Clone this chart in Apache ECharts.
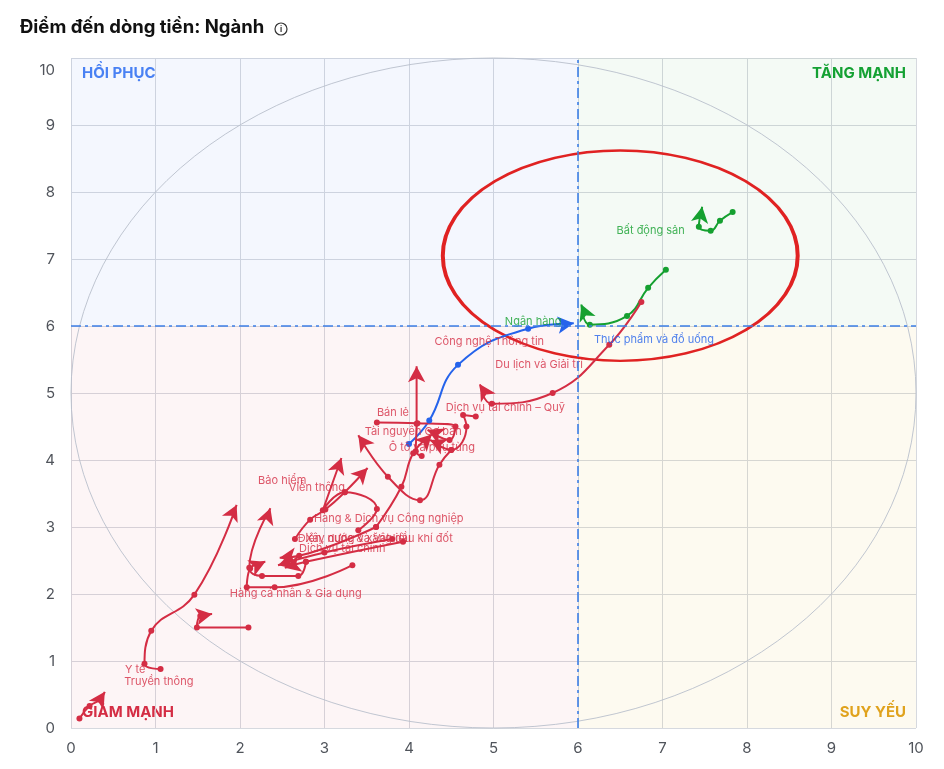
<!DOCTYPE html>
<html>
<head>
<meta charset="utf-8">
<script src="https://cdn.jsdelivr.net/npm/echarts@6/dist/echarts.min.js"></script>
<style>
html, body { margin: 0; padding: 0; background: #fff; }
#chart { width: 944px; height: 769px; }
</style>
</head>
<body>
<div id="chart"></div>
<script>
// trails of each sector: [x, y] points, oldest first, last point is the arrow head
var batDongSan = [[7.83, 7.70], [7.68, 7.57], [7.57, 7.42], [7.43, 7.48], [7.47, 7.78]];
var thucPham = [[7.04, 6.84], [6.83, 6.57], [6.58, 6.15], [6.14, 6.02], [6.04, 6.32]];
var nganHang = [[4.00, 4.24], [4.24, 4.59], [4.58, 5.42], [5.41, 5.96], [5.95, 6.04]];
var duLich = [[6.75, 6.36], [6.37, 5.72], [5.70, 5.00], [4.98, 4.84], [4.84, 5.13]];
var congNghe = [[4.15, 4.06], [4.08, 4.13], [4.09, 4.54], [4.09, 5.40]];
var banLe = [[3.62, 4.56], [4.10, 4.55], [4.55, 4.50], [4.48, 4.30], [4.22, 4.45]];
var dvtcQuy = [[4.79, 4.65], [4.64, 4.67], [4.68, 4.50], [4.50, 4.15], [4.25, 4.30]];
var taiNguyen = [[3.61, 3.00], [3.91, 3.60], [4.05, 4.10], [4.27, 4.38]];
var otoPhuTung = [[4.50, 4.15], [4.36, 3.93], [4.13, 3.40], [3.75, 3.75], [3.40, 4.37]];
var baoHiem = [[2.78, 2.48], [2.69, 2.27], [2.26, 2.27], [2.11, 2.39], [2.36, 3.28]];
var vienThong = [[3.40, 2.95], [3.62, 3.27], [3.24, 3.52], [2.98, 3.25], [3.20, 4.03]];
var hangDvcn = [[2.65, 2.82], [2.83, 3.11], [3.01, 3.26], [3.24, 3.52], [3.51, 3.88]];
var xayDung = [[3.80, 2.82], [3.00, 2.62], [2.45, 2.43]];
var dienNuoc = [[3.61, 3.00], [2.70, 2.57], [2.47, 2.54]];
var dvTaiChinh = [[3.93, 2.78], [2.78, 2.48], [2.53, 2.39]];
var hangCaNhan = [[3.33, 2.43], [2.41, 2.10], [2.08, 2.10], [2.12, 2.38], [2.30, 2.48]];
var yTe = [[1.06, 0.88], [0.87, 0.96], [0.95, 1.45], [1.46, 1.99], [1.96, 3.33]];
var truyenThong = [[0.10, 0.14], [0.22, 0.33], [0.34, 0.42], [0.40, 0.54]];
var hoaChat = [[2.10, 1.50], [1.49, 1.50], [1.53, 1.67], [1.67, 1.70]];

var sectorNames = ['Bất động sản', 'Thực phẩm và đồ uống', 'Ngân hàng', 'Du lịch và Giải trí',
  'Công nghệ Thông tin', 'Bán lẻ', 'Dịch vụ tài chính – Quỹ', 'Tài nguyên Cơ bản', 'Ô tô và phụ tùng',
  'Bảo hiểm', 'Viễn thông', 'Hàng & Dịch vụ Công nghiệp', 'Xây dựng và Vật liệu',
  'Điện, nước & xăng dầu khí đốt', 'Dịch vụ tài chính', 'Hàng cá nhân & Gia dụng', 'Y tế',
  'Truyền thông', 'Hóa chất'];
var sectorTrails = [batDongSan, thucPham, nganHang, duLich, congNghe, banLe, dvtcQuy, taiNguyen,
  otoPhuTung, baoHiem, vienThong, hangDvcn, xayDung, dienNuoc, dvTaiChinh, hangCaNhan, yTe,
  truyenThong, hoaChat];
var sectorGroups = ['up', 'up', 'rec', 'down', 'down', 'down', 'down', 'down', 'down', 'down', 'down',
  'down', 'down', 'down', 'down', 'down', 'down', 'down', 'down'];

// name labels as they sit on the chart
var labelNames = ['Bất động sản', 'Ngân hàng', 'Thực phẩm và đồ uống', 'Công nghệ Thông tin',
  'Du lịch và Giải trí', 'Dịch vụ tài chính – Quỹ', 'Bán lẻ', 'Tài nguyên Cơ bản', 'Ô tô và phụ tùng',
  'Bảo hiểm', 'Viễn thông', 'Hàng & Dịch vụ Công nghiệp', 'Xây dựng và Vật liệu',
  'Điện, nước & xăng dầu khí đốt', 'Dịch vụ tài chính', 'Hàng cá nhân & Gia dụng', 'Y tế', 'Truyền thông'];
var labelPoints = [[6.86, 7.43], [5.47, 6.07], [6.90, 5.79], [4.95, 5.76], [5.54, 5.42], [5.14, 4.78],
  [3.81, 4.70], [4.05, 4.42], [4.27, 4.19], [2.50, 3.69], [2.91, 3.58], [3.76, 3.12], [3.40, 2.82],
  [3.60, 2.82], [3.21, 2.67], [2.66, 2.00], [0.76, 0.87], [1.04, 0.69]];
var labelGroups = ['up', 'up', 'rec', 'down', 'down', 'down', 'down', 'down', 'down', 'down', 'down',
  'down', 'down', 'down', 'down', 'down', 'down', 'down'];

var axisTicks = [0, 1, 2, 3, 4, 5, 6, 7, 8, 9, 10];
var splitValue = 6;
var guideCircle = [5, 5, 5, 5];        // cx, cy, rx, ry
var highlightEllipse = [6.50, 7.05, 2.10, 1.57];

var groupColors = { up: '#15a030', rec: '#2563eb', down: '#d42d44' };

var chart = echarts.init(document.getElementById('chart'));

function ellipseSeries(values, color, width) {
  return {
    type: 'custom',
    silent: true,
    clip: false,
    encode: { x: 0, y: 1 },
    data: [values],
    z: 1,
    renderItem: function (params, api) {
      var c = api.coord([api.value(0), api.value(1)]);
      var e = api.coord([api.value(0) + api.value(2), api.value(1) + api.value(3)]);
      var rx = Math.abs(e[0] - c[0]);
      var ry = Math.abs(e[1] - c[1]);
      return {
        type: 'circle',
        x: c[0], y: c[1],
        scaleY: ry / rx,
        shape: { cx: 0, cy: 0, r: rx },
        style: { fill: 'none', stroke: color, lineWidth: width, strokeNoScale: true }
      };
    }
  };
}

function buildSeries(rotations) {
  var list = [];
  list.push({
    type: 'scatter',
    data: [],
    silent: true,
    markArea: {
      silent: true,
      data: [
        [{ coord: [0, splitValue], itemStyle: { color: 'rgba(70,120,240,0.06)' } }, { coord: [splitValue, 10] }],
        [{ coord: [splitValue, splitValue], itemStyle: { color: 'rgba(30,160,60,0.05)' } }, { coord: [10, 10] }],
        [{ coord: [0, 0], itemStyle: { color: 'rgba(220,50,80,0.05)' } }, { coord: [splitValue, splitValue] }],
        [{ coord: [splitValue, 0], itemStyle: { color: 'rgba(230,180,40,0.07)' } }, { coord: [10, splitValue] }]
      ]
    },
    markLine: {
      silent: true,
      symbol: 'none',
      label: { show: false },
      lineStyle: { color: '#3d7fe6', width: 1.6, type: [10, 4, 3, 4] },
      data: [{ xAxis: splitValue }, { yAxis: splitValue }]
    }
  });
  list.push(ellipseSeries(guideCircle, '#b9bfcc', 1));
  sectorTrails.forEach(function (trail, i) {
    var color = groupColors[sectorGroups[i]];
    var data = trail.map(function (p, k) {
      if (k === trail.length - 1) {
        return { value: p, symbol: 'arrow', symbolSize: [13, 16], symbolRotate: rotations ? rotations[i] : 0 };
      }
      return { value: p, symbol: 'circle', symbolSize: 6 };
    });
    list.push({
      name: sectorNames[i],
      type: 'line',
      smooth: 0.45,
      data: data,
      z: 3,
      lineStyle: { color: color, width: 2 },
      itemStyle: { color: color, opacity: 1 },
      emphasis: { disabled: true }
    });
  });
  list.push({
    type: 'scatter',
    silent: true,
    symbolSize: 0,
    z: 4,
    data: labelPoints.map(function (p, i) {
      return {
        value: p,
        name: labelNames[i],
        label: { color: groupColors[labelGroups[i]] }
      };
    }),
    label: {
      show: true,
      position: 'inside',
      formatter: '{b}',
      fontFamily: 'Inter',
      fontSize: 11
    }
  });
  list.push(ellipseSeries(highlightEllipse, '#e02222', 4));
  return list;
}

var axisLabelStyle = { color: '#50545b', fontSize: 15, fontFamily: 'Inter' };

var option = {
  animation: false,
  textStyle: { fontFamily: 'Inter' },
  grid: { left: 71, right: 28, top: 58, bottom: 41 },
  xAxis: {
    type: 'value', min: axisTicks[0], max: axisTicks[axisTicks.length - 1], interval: 1,
    axisLine: { show: false }, axisTick: { show: false },
    axisLabel: Object.assign({ margin: 13 }, axisLabelStyle),
    splitLine: { show: true, lineStyle: { color: '#d6d9df', width: 1 } }
  },
  yAxis: {
    type: 'value', min: axisTicks[0], max: axisTicks[axisTicks.length - 1], interval: 1,
    axisLine: { show: false }, axisTick: { show: false },
    axisLabel: Object.assign({
      margin: 16,
      formatter: function (v) { return v === axisTicks[axisTicks.length - 1] ? '{top|' + v + '}' : String(v); },
      rich: { top: { fontSize: 15, color: '#50545b', padding: [24, 0, 0, 0] } }
    }, axisLabelStyle),
    splitLine: { show: true, lineStyle: { color: '#d6d9df', width: 1 } }
  },
  graphic: [
    { type: 'text', left: 20, top: 18, style: { text: 'Điểm đến dòng tiền: Ngành', fill: '#111', font: 'bold 18.5px Inter' } },
    { type: 'circle', shape: { cx: 281, cy: 29, r: 6 }, style: { fill: 'none', stroke: '#333', lineWidth: 1.2 } },
    { type: 'text', x: 281, y: 29.5, style: { text: 'i', fill: '#333', font: 'bold 8px Inter', align: 'center', verticalAlign: 'middle' } },
    { type: 'text', x: 82, y: 73, style: { text: 'HỒI PHỤC', fill: '#4a82f4', font: 'bold 15px Inter', verticalAlign: 'middle' } },
    { type: 'text', x: 906, y: 73, style: { text: 'TĂNG MẠNH', fill: '#14a233', font: 'bold 15px Inter', align: 'right', verticalAlign: 'middle' } },
    { type: 'text', x: 82, y: 712, style: { text: 'GIẢM MẠNH', fill: '#d42d44', font: 'bold 15px Inter', verticalAlign: 'middle' } },
    { type: 'text', x: 906, y: 712, style: { text: 'SUY YẾU', fill: '#e0a11c', font: 'bold 15px Inter', align: 'right', verticalAlign: 'middle' } }
  ],
  series: buildSeries(null)
};

chart.setOption(option);

// point each arrow along its last segment, in screen space
var rotations = sectorTrails.map(function (trail) {
  var a = chart.convertToPixel({ gridIndex: 0 }, trail[trail.length - 2]);
  var b = chart.convertToPixel({ gridIndex: 0 }, trail[trail.length - 1]);
  return -90 - Math.atan2(b[1] - a[1], b[0] - a[0]) * 180 / Math.PI;
});
chart.setOption({ series: buildSeries(rotations) });
</script>
</body>
</html>
